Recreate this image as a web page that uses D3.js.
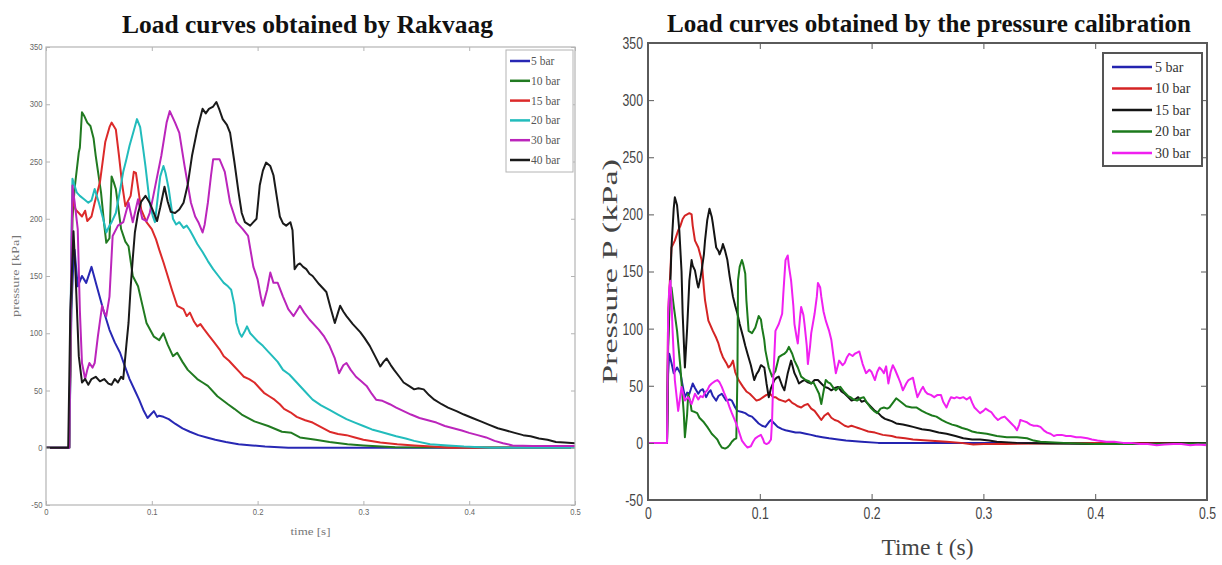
<!DOCTYPE html>
<html>
<head>
<meta charset="utf-8">
<script src="https://cdn.jsdelivr.net/npm/d3@7"></script>
<style>
  body { margin: 0; background: #fff; }
  svg { display: block; }
</style>
</head>
<body>
<div id="chart"></div>
<script>
// ---- data: [time (s), pressure (kPa)] ----
const rakNames = ["5 bar", "10 bar", "15 bar", "20 bar", "30 bar", "40 bar"];
const rakColors = ["#2828b4", "#217a21", "#dc2a2a", "#22bcbc", "#bb25bb", "#1a1a1a"];

const rak5 = [[0,0],[0.022,0],[0.024,120],[0.026,165],[0.027,173],[0.030,141],[0.034,150],[0.038,144],[0.043,158],[0.048,141],[0.054,121],[0.060,103],[0.065,92],[0.070,83],[0.075,70],[0.079,60],[0.084,50],[0.088,42],[0.092,33],[0.096,26],[0.099,29],[0.102,32],[0.105,27],[0.107,28],[0.111,27],[0.116,25],[0.122,21],[0.129,17],[0.136,14],[0.144,11],[0.152,9],[0.160,7],[0.170,5],[0.182,3],[0.195,2],[0.207,1],[0.229,0],[0.5,0]];
const rak10 = [[0,0],[0.022,0],[0.025,200],[0.027,226],[0.031,258],[0.032,262],[0.034,293],[0.036,290],[0.039,284],[0.042,281],[0.045,270],[0.047,255],[0.052,223],[0.055,195],[0.057,179],[0.060,183],[0.062,237],[0.064,232],[0.066,226],[0.071,191],[0.075,180],[0.078,176],[0.082,150],[0.087,141],[0.091,125],[0.095,109],[0.102,97],[0.107,94],[0.111,100],[0.115,90],[0.120,80],[0.124,83],[0.129,75],[0.134,68],[0.143,60],[0.148,57],[0.153,54],[0.162,45],[0.172,38],[0.178,34],[0.185,29],[0.197,23],[0.210,19],[0.223,14],[0.232,13],[0.240,9],[0.255,7],[0.268,5],[0.285,3],[0.300,2],[0.330,0.5],[0.5,0]];
const rak15 = [[0,0],[0.022,0],[0.024,150],[0.025,217],[0.028,208],[0.031,205],[0.034,202],[0.037,207],[0.039,198],[0.043,202],[0.046,214],[0.051,232],[0.056,267],[0.060,280],[0.062,284],[0.066,278],[0.069,255],[0.072,230],[0.075,211],[0.080,220],[0.083,241],[0.085,240],[0.090,208],[0.095,197],[0.100,191],[0.104,182],[0.107,173],[0.111,162],[0.114,153],[0.119,138],[0.124,124],[0.130,121],[0.133,115],[0.136,118],[0.140,110],[0.143,106],[0.146,108],[0.149,104],[0.154,98],[0.159,92],[0.164,86],[0.168,80],[0.173,76],[0.178,71],[0.183,66],[0.187,62],[0.192,60],[0.197,57],[0.202,52],[0.206,48],[0.211,45],[0.216,42],[0.221,38],[0.225,34],[0.231,31],[0.237,27],[0.245,24],[0.252,22],[0.260,18],[0.268,14],[0.276,12],[0.284,11],[0.292,9],[0.300,7],[0.316,4.5],[0.332,3],[0.348,2],[0.365,1],[0.380,0],[0.5,0]];
const rak20 = [[0,0],[0.022,0],[0.024,180],[0.025,235],[0.029,223],[0.032,220],[0.036,217],[0.040,214],[0.043,216],[0.046,226],[0.050,214],[0.054,200],[0.057,188],[0.060,194],[0.062,197],[0.066,205],[0.070,225],[0.073,241],[0.076,252],[0.079,264],[0.083,277],[0.086,287],[0.089,280],[0.092,260],[0.094,246],[0.098,214],[0.101,202],[0.103,197],[0.106,222],[0.108,237],[0.111,246],[0.113,240],[0.116,226],[0.120,200],[0.123,195],[0.126,197],[0.130,192],[0.133,194],[0.136,190],[0.139,185],[0.143,178],[0.148,171],[0.153,163],[0.158,156],[0.163,150],[0.168,144],[0.172,141],[0.175,138],[0.178,125],[0.180,109],[0.183,100],[0.185,97],[0.188,102],[0.190,106],[0.193,100],[0.196,97],[0.200,93],[0.205,89],[0.210,84],[0.214,80],[0.219,75],[0.224,68],[0.230,64],[0.237,57],[0.244,50],[0.252,42],[0.260,37],[0.268,33],[0.276,29],[0.284,25],[0.292,22],[0.300,19],[0.308,16],[0.316,14],[0.331,10],[0.340,8],[0.348,6],[0.363,3],[0.380,2],[0.395,1],[0.420,0],[0.5,0]];
const rak30 = [[0,0],[0.022,0],[0.024,170],[0.025,229],[0.027,215],[0.030,191],[0.032,120],[0.034,74],[0.037,60],[0.039,68],[0.041,74],[0.044,70],[0.046,74],[0.049,97],[0.053,124],[0.055,118],[0.057,115],[0.060,132],[0.063,185],[0.068,194],[0.073,197],[0.078,214],[0.082,197],[0.087,217],[0.091,200],[0.095,198],[0.098,205],[0.101,218],[0.104,232],[0.109,255],[0.114,284],[0.117,294],[0.122,284],[0.126,275],[0.131,246],[0.137,214],[0.141,202],[0.144,197],[0.148,188],[0.150,195],[0.153,214],[0.156,238],[0.158,252],[0.164,252],[0.169,241],[0.174,214],[0.180,197],[0.186,191],[0.191,185],[0.196,158],[0.200,147],[0.203,132],[0.205,124],[0.209,138],[0.212,153],[0.215,144],[0.219,144],[0.224,132],[0.229,121],[0.234,115],[0.240,124],[0.244,118],[0.249,112],[0.258,103],[0.263,97],[0.268,89],[0.273,78],[0.277,65],[0.281,72],[0.284,74],[0.288,68],[0.293,62],[0.298,58],[0.303,54],[0.308,47],[0.312,42],[0.318,41],[0.325,38],[0.331,35],[0.338,32],[0.345,29],[0.353,26],[0.361,24],[0.369,22],[0.377,19],[0.385,17],[0.393,15],[0.400,13],[0.408,11],[0.416,9],[0.424,6],[0.432,4],[0.441,2],[0.46,1.5],[0.48,1.5],[0.5,1.5]];
const rak40 = [[0,0],[0.021,0],[0.023,120],[0.026,189],[0.028,150],[0.031,80],[0.034,57],[0.037,60],[0.040,55],[0.043,60],[0.047,62],[0.051,58],[0.055,60],[0.059,56],[0.062,55],[0.065,60],[0.068,57],[0.071,62],[0.073,60],[0.076,90],[0.078,109],[0.080,140],[0.082,165],[0.084,188],[0.087,205],[0.090,215],[0.094,220],[0.098,214],[0.102,205],[0.105,198],[0.108,210],[0.112,228],[0.115,215],[0.118,206],[0.122,205],[0.126,208],[0.130,214],[0.134,230],[0.138,255],[0.143,278],[0.148,296],[0.151,292],[0.154,296],[0.158,298],[0.161,302],[0.164,295],[0.167,287],[0.171,282],[0.174,275],[0.178,250],[0.182,223],[0.185,205],[0.188,197],[0.193,194],[0.196,197],[0.199,200],[0.202,229],[0.205,242],[0.208,249],[0.212,246],[0.215,238],[0.218,220],[0.221,202],[0.224,196],[0.227,194],[0.231,197],[0.233,190],[0.235,156],[0.238,160],[0.240,161],[0.243,158],[0.246,156],[0.249,152],[0.252,150],[0.258,143],[0.265,136],[0.269,122],[0.273,109],[0.276,118],[0.278,124],[0.281,119],[0.284,115],[0.290,108],[0.297,101],[0.301,96],[0.306,89],[0.311,80],[0.316,71],[0.319,75],[0.322,78],[0.326,72],[0.329,68],[0.334,62],[0.338,57],[0.343,54],[0.348,51],[0.352,52],[0.357,51],[0.362,46],[0.367,42],[0.374,38],[0.380,35],[0.388,32],[0.395,29],[0.403,26],[0.411,23],[0.419,20],[0.427,17],[0.435,15],[0.443,13],[0.451,11],[0.458,10],[0.466,8],[0.474,7],[0.482,5],[0.490,4.5],[0.5,4]];

const calNames = ["5 bar", "10 bar", "15 bar", "20 bar", "30 bar"];
const calColors = ["#2424b0", "#d42424", "#141414", "#1c7a1c", "#f020f0"];

const cal5 = [[0,0],[0.017,0],[0.018,60],[0.019,78],[0.021,70],[0.023,61],[0.026,66],[0.029,61],[0.031,50],[0.033,40],[0.035,44],[0.037,43],[0.040,52],[0.042,48],[0.045,43],[0.047,46],[0.049,47],[0.052,40],[0.054,44],[0.056,46],[0.058,41],[0.061,37],[0.063,41],[0.066,43],[0.068,40],[0.070,37],[0.073,38],[0.075,37],[0.078,31],[0.080,28],[0.084,27],[0.087,26],[0.090,24],[0.093,23],[0.096,20],[0.099,17],[0.102,15],[0.105,14],[0.108,18],[0.110,20],[0.113,17],[0.116,14],[0.120,12],[0.123,11],[0.128,10],[0.132,9],[0.136,9],[0.141,8],[0.146,7],[0.150,6],[0.156,5],[0.162,4],[0.170,3],[0.177,2],[0.191,1],[0.206,0],[0.5,0]];
const cal10 = [[0,0],[0.017,0],[0.018,113],[0.020,150],[0.021,171],[0.024,177],[0.027,186],[0.029,190],[0.031,196],[0.033,199],[0.035,200],[0.037,201],[0.039,200],[0.040,190],[0.042,177],[0.045,171],[0.048,160],[0.050,135],[0.051,125],[0.054,107],[0.058,98],[0.061,92],[0.063,87],[0.065,80],[0.067,75],[0.070,70],[0.072,66],[0.074,68],[0.076,72],[0.078,62],[0.081,55],[0.085,49],[0.088,45],[0.091,43],[0.094,40],[0.097,37],[0.100,38],[0.103,40],[0.106,42],[0.109,43],[0.112,40],[0.114,40],[0.117,38],[0.120,37],[0.123,36],[0.126,38],[0.129,35],[0.131,34],[0.134,32],[0.137,31],[0.140,33],[0.143,34],[0.146,30],[0.149,28],[0.152,24],[0.155,20],[0.158,24],[0.161,26],[0.164,22],[0.167,20],[0.170,19],[0.173,17],[0.176,15],[0.179,14],[0.182,15],[0.185,14],[0.188,13],[0.191,12],[0.197,10],[0.203,9],[0.210,7],[0.218,6],[0.222,5],[0.230,4],[0.237,3],[0.250,2],[0.267,1],[0.280,0],[0.291,-1.5],[0.300,-1],[0.320,-1],[0.350,-0.5],[0.4,0],[0.5,0]];
const cal15 = [[0,0],[0.017,0],[0.018,84],[0.020,140],[0.021,171],[0.023,205],[0.024,215],[0.026,208],[0.028,186],[0.030,150],[0.031,113],[0.033,66],[0.035,100],[0.037,142],[0.039,160],[0.040,155],[0.042,151],[0.044,140],[0.045,136],[0.047,145],[0.048,151],[0.050,165],[0.051,177],[0.053,195],[0.055,205],[0.057,198],[0.058,192],[0.060,178],[0.061,171],[0.063,168],[0.064,165],[0.066,170],[0.067,174],[0.069,168],[0.071,160],[0.073,146],[0.076,128],[0.078,120],[0.080,113],[0.082,104],[0.085,93],[0.087,85],[0.089,78],[0.092,68],[0.095,55],[0.097,60],[0.099,63],[0.101,68],[0.104,66],[0.106,52],[0.108,40],[0.110,48],[0.113,55],[0.115,57],[0.117,58],[0.120,50],[0.122,46],[0.125,61],[0.128,72],[0.131,61],[0.133,57],[0.135,52],[0.138,54],[0.140,55],[0.143,53],[0.146,52],[0.149,55],[0.152,55],[0.155,52],[0.158,49],[0.161,48],[0.164,46],[0.167,48],[0.170,49],[0.173,45],[0.176,43],[0.179,40],[0.182,37],[0.185,38],[0.188,40],[0.191,36],[0.194,37],[0.197,34],[0.200,31],[0.203,28],[0.206,26],[0.209,23],[0.212,21],[0.215,20],[0.218,19],[0.222,17],[0.228,16],[0.233,15],[0.237,14],[0.245,12],[0.252,11],[0.260,9],[0.267,8],[0.275,6],[0.282,4],[0.290,3],[0.297,3],[0.305,2],[0.312,1],[0.330,0],[0.360,-0.5],[0.400,-1],[0.450,-0.5],[0.5,0]];
const cal20 = [[0,0],[0.017,0],[0.018,90],[0.019,130],[0.021,136],[0.023,120],[0.026,98],[0.029,66],[0.032,26],[0.033,5],[0.035,25],[0.036,43],[0.038,35],[0.039,28],[0.042,27],[0.044,26],[0.046,22],[0.048,20],[0.050,18],[0.053,14],[0.055,11],[0.057,8],[0.060,5],[0.062,3],[0.064,-1],[0.066,-4],[0.069,-5],[0.071,-4],[0.073,-2],[0.075,1],[0.077,3],[0.079,4],[0.080,60],[0.0805,142],[0.082,154],[0.084,160],[0.085,157],[0.087,148],[0.088,125],[0.090,98],[0.093,96],[0.096,101],[0.099,111],[0.101,108],[0.102,101],[0.104,90],[0.105,81],[0.108,66],[0.111,58],[0.114,63],[0.117,75],[0.120,77],[0.122,78],[0.124,80],[0.126,84],[0.128,80],[0.129,78],[0.131,72],[0.134,66],[0.137,58],[0.141,55],[0.144,54],[0.146,52],[0.148,53],[0.150,49],[0.153,43],[0.155,34],[0.157,45],[0.159,55],[0.161,53],[0.163,52],[0.166,48],[0.168,46],[0.170,48],[0.172,49],[0.175,45],[0.177,43],[0.179,41],[0.181,40],[0.184,38],[0.187,37],[0.190,39],[0.193,40],[0.196,35],[0.199,31],[0.202,28],[0.205,26],[0.208,30],[0.211,31],[0.214,30],[0.216,31],[0.219,35],[0.222,39],[0.226,36],[0.231,32],[0.236,31],[0.240,31],[0.245,28],[0.249,26],[0.254,24],[0.258,23],[0.263,20],[0.267,18],[0.272,16],[0.276,15],[0.281,13],[0.285,12],[0.290,10],[0.294,9],[0.303,8],[0.312,6],[0.321,5],[0.330,5],[0.339,4],[0.345,2],[0.351,1],[0.372,0],[0.4,-1],[0.45,-1],[0.5,-0.5]];
const cal30 = [[0,0],[0.017,0],[0.018,113],[0.019,135],[0.020,142],[0.021,125],[0.022,98],[0.024,55],[0.027,28],[0.030,49],[0.033,37],[0.036,40],[0.039,34],[0.042,43],[0.045,38],[0.047,41],[0.049,40],[0.051,44],[0.053,46],[0.055,50],[0.057,52],[0.060,54],[0.062,55],[0.064,53],[0.066,49],[0.068,44],[0.071,37],[0.073,31],[0.075,26],[0.078,19],[0.080,14],[0.082,8],[0.084,2],[0.087,-2],[0.089,-4],[0.092,-3],[0.094,1],[0.096,4],[0.099,6],[0.101,7],[0.103,3],[0.104,0],[0.106,-1],[0.108,0],[0.110,3],[0.111,20],[0.112,55],[0.114,98],[0.117,104],[0.120,113],[0.121,130],[0.123,160],[0.125,164],[0.126,155],[0.128,142],[0.130,120],[0.131,104],[0.133,92],[0.134,87],[0.136,110],[0.137,119],[0.139,112],[0.140,104],[0.142,85],[0.143,69],[0.145,85],[0.146,96],[0.149,113],[0.151,128],[0.152,140],[0.154,136],[0.155,128],[0.157,115],[0.159,107],[0.162,98],[0.164,90],[0.166,75],[0.168,61],[0.171,72],[0.174,68],[0.176,70],[0.178,75],[0.180,78],[0.183,76],[0.185,78],[0.187,79],[0.189,80],[0.192,69],[0.195,61],[0.198,64],[0.200,62],[0.203,55],[0.205,62],[0.207,66],[0.209,64],[0.211,61],[0.213,67],[0.215,52],[0.217,62],[0.219,68],[0.221,64],[0.224,57],[0.226,52],[0.228,46],[0.231,52],[0.233,55],[0.235,56],[0.237,57],[0.239,48],[0.241,40],[0.244,46],[0.246,49],[0.248,45],[0.250,43],[0.253,42],[0.256,40],[0.259,42],[0.262,42],[0.264,36],[0.267,31],[0.269,36],[0.271,40],[0.274,39],[0.276,40],[0.279,39],[0.282,40],[0.285,38],[0.288,40],[0.290,35],[0.292,31],[0.295,28],[0.297,26],[0.300,28],[0.302,30],[0.305,28],[0.307,27],[0.310,23],[0.313,20],[0.316,22],[0.319,23],[0.322,20],[0.325,17],[0.328,14],[0.330,11],[0.332,16],[0.333,20],[0.336,19],[0.339,18],[0.342,16],[0.345,15],[0.348,15],[0.351,14],[0.354,11],[0.357,9],[0.360,8],[0.363,6],[0.366,7],[0.370,7],[0.374,6],[0.378,6],[0.383,5],[0.387,5],[0.393,4],[0.397,3],[0.402,2],[0.410,1],[0.417,1],[0.425,0],[0.432,0],[0.440,-1],[0.447,-1],[0.455,-2],[0.462,-1.5],[0.470,-1],[0.477,-1],[0.485,-2],[0.492,-1.5],[0.5,-2]];

const xTicks = [0, 0.1, 0.2, 0.3, 0.4, 0.5];
const yTicks = [-50, 0, 50, 100, 150, 200, 250, 300, 350];

const width = 1222;
const height = 565;

const svg = d3.select('#chart')
    .append('svg')
    .attr('width', width)
    .attr('height', height);

// one MATLAB-looking panel
function drawPanel(p) {
    const x = d3.scaleLinear().domain([0, 0.5]).range([p.left, p.right]);
    const y = d3.scaleLinear().domain([-50, 350]).range([p.bottom, p.top]);
    const g = svg.append('g');

    const clipId = 'clip' + p.id;
    g.append('clipPath').attr('id', clipId)
        .append('rect')
        .attr('x', p.left).attr('y', p.top)
        .attr('width', p.right - p.left).attr('height', p.bottom - p.top);

    const line = d3.line().x(d => x(d[0])).y(d => y(d[1]));

    g.append('g')
        .attr('clip-path', `url(#${clipId})`)
        .selectAll('path')
        .data(p.series)
        .join('path')
        .attr('d', d => line(d))
        .attr('fill', 'none')
        .attr('stroke', (d, i) => p.colors[i])
        .attr('stroke-width', p.lineWidth)
        .attr('stroke-linejoin', 'round');

    // axes with inward ticks on all four sides
    const fmt = d => d === 0 ? '0' : String(d);
    const axes = [
        [d3.axisBottom(x), `translate(0,${p.bottom})`, xTicks, true],
        [d3.axisTop(x), `translate(0,${p.top})`, xTicks, false],
        [d3.axisLeft(y), `translate(${p.left},0)`, yTicks, true],
        [d3.axisRight(y), `translate(${p.right},0)`, yTicks, false]
    ];
    axes.forEach(([ax, tr, ticks, labels]) => {
        const a = g.append('g')
            .attr('transform', tr)
            .call(ax.tickValues(ticks).tickSizeInner(-p.tickLen).tickSizeOuter(0)
                .tickPadding(p.tickPad).tickFormat(labels ? fmt : ''));
        a.select('.domain').remove();
        a.selectAll('line').attr('stroke', p.frameColor).attr('stroke-width', 1);
        a.selectAll('text')
            .attr('font-family', p.tickFont)
            .attr('font-size', p.tickSize)
            .attr('fill', p.tickColor)
            .attr('transform', `scale(${p.tickScaleX},1)`);
    });

    g.append('rect')
        .attr('x', p.left).attr('y', p.top)
        .attr('width', p.right - p.left).attr('height', p.bottom - p.top)
        .attr('fill', 'none')
        .attr('stroke', p.frameColor)
        .attr('stroke-width', p.frameWidth);

    // title
    g.append('text')
        .attr('x', p.titleX).attr('y', p.titleY)
        .attr('textLength', p.titleLen).attr('lengthAdjust', 'spacingAndGlyphs')
        .attr('font-family', '"Liberation Serif", "Times New Roman", serif')
        .attr('font-weight', 'bold')
        .attr('font-size', 26)
        .attr('fill', '#111')
        .text(p.title);

    // axis labels
    g.append('text')
        .attr('x', (p.left + p.right) / 2).attr('y', p.xLabelY)
        .attr('text-anchor', 'middle')
        .attr('font-family', '"Liberation Serif", serif')
        .attr('font-size', p.labelSize)
        .attr('fill', p.labelColor)
        .attr('textLength', p.xLabelLen).attr('lengthAdjust', 'spacingAndGlyphs')
        .text(p.xLabel);

    g.append('text')
        .attr('transform', `translate(${p.yLabelX},${(p.top + p.bottom) / 2}) rotate(-90)`)
        .attr('text-anchor', 'middle')
        .attr('font-family', '"Liberation Serif", serif')
        .attr('font-size', p.yLabelSize)
        .attr('fill', p.labelColor)
        .attr('textLength', p.yLabelLen).attr('lengthAdjust', 'spacingAndGlyphs')
        .text(p.yLabel);

    // legend
    const lg = p.legend;
    g.append('rect')
        .attr('x', lg.x0).attr('y', lg.y0)
        .attr('width', lg.x1 - lg.x0).attr('height', lg.y1 - lg.y0)
        .attr('fill', '#fff')
        .attr('stroke', lg.border)
        .attr('stroke-width', lg.borderWidth);

    const items = g.selectAll('.leg' + p.id)
        .data(p.names)
        .join('g')
        .attr('transform', (d, i) => `translate(0,${lg.firstY + i * lg.step})`);
    items.append('line')
        .attr('x1', lg.lineX0).attr('x2', lg.lineX1)
        .attr('stroke', (d, i) => p.colors[i])
        .attr('stroke-width', lg.lineWidth);
    items.append('text')
        .attr('x', lg.textX).attr('dy', '0.35em')
        .attr('font-family', '"Liberation Serif", serif')
        .attr('font-size', lg.fontSize)
        .attr('fill', lg.textColor)
        .text(d => d);
}

drawPanel({
    id: 'L', left: 46, right: 575, top: 47, bottom: 505,
    series: [rak5, rak10, rak15, rak20, rak30, rak40],
    names: rakNames, colors: rakColors, lineWidth: 2,
    frameColor: '#b4b4b4', frameWidth: 1.2, tickLen: 4, tickPad: 4, tickScaleX: 0.9,
    tickFont: '"Liberation Sans", Arial, sans-serif', tickSize: 8.5, tickColor: '#666',
    title: 'Load curves obtained by Rakvaag', titleX: 122, titleY: 33, titleLen: 371,
    xLabel: 'time [s]', xLabelY: 535, xLabelLen: 40,
    yLabel: 'pressure [kPa]', yLabelX: 19, yLabelLen: 82, yLabelSize: 11,
    labelSize: 11, labelColor: '#777',
    legend: { x0: 506, x1: 573, y0: 50, y1: 172, border: '#b4b4b4', borderWidth: 1,
        firstY: 61, step: 19.8, lineX0: 510, lineX1: 530, lineWidth: 2.5, textX: 531,
        fontSize: 11.5, textColor: '#555' }
});

drawPanel({
    id: 'R', left: 648, right: 1207, top: 43, bottom: 500,
    series: [cal5, cal10, cal15, cal20, cal30],
    names: calNames, colors: calColors, lineWidth: 2,
    frameColor: '#5a5a5a', frameWidth: 2, tickLen: 6, tickPad: 7, tickScaleX: 0.72,
    tickFont: '"Liberation Sans", Arial, sans-serif', tickSize: 17, tickColor: '#444',
    title: 'Load curves obtained by the pressure calibration', titleX: 667, titleY: 32, titleLen: 524,
    xLabel: 'Time t (s)', xLabelY: 555, xLabelLen: 92,
    yLabel: 'Pressure P (kPa)', yLabelX: 617, yLabelLen: 225, yLabelSize: 22,
    labelSize: 24, labelColor: '#444',
    legend: { x0: 1103, x1: 1202, y0: 53, y1: 166, border: '#555', borderWidth: 2,
        firstY: 67, step: 21.5, lineX0: 1112, lineX1: 1152, lineWidth: 2.5, textX: 1155,
        fontSize: 14, textColor: '#333' }
});
</script>
</body>
</html>
